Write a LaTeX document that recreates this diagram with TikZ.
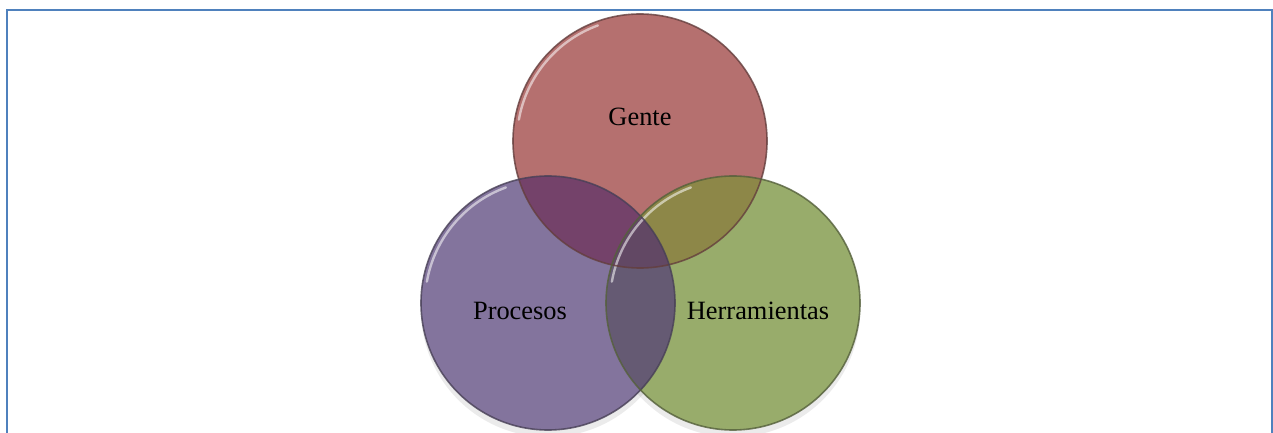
\documentclass[tikz,border=0pt]{standalone}
\usepackage{fontspec}
\setmainfont{Liberation Serif}
\usetikzlibrary{calc}
\definecolor{framec}{RGB}{79,129,189}
\definecolor{genteC}{RGB}{181,112,111}
\definecolor{procC}{RGB}{131,116,157}
\definecolor{herrC}{RGB}{152,172,107}
\definecolor{gpC}{RGB}{116,66,106}
\definecolor{ghC}{RGB}{141,135,72}
\definecolor{phC}{RGB}{101,90,115}
\definecolor{gphC}{RGB}{98,72,100}
\def\rad{127}
\tikzset{
  label text/.style={font=\fontsize{19.8}{24}\selectfont, text=black, inner sep=0pt},
  rim/.style={draw=#1, line width=1.2pt, draw opacity=0.8},
  gloss/.style={draw=white, line width=1.8pt, draw opacity=0.55, line cap=round},
}

\begin{document}
\begin{tikzpicture}[x=0.75pt,y=0.75pt]
			%%%%% START %%%%%
			\useasboundingbox (0, 0) rectangle (1273, 432);
			
			\draw[framec, line width=1.8pt] (7, -2) -- (7, 422) -- (1272, 422) -- (1272, -2);
			
			\coordinate (gente) at (640, 291);
			\coordinate (procesos) at (548, 129);
			\coordinate (herra) at (733, 129);
			
			% shadows
			\fill[black, opacity=0.08] ($(procesos)+(0,-7)$) circle (\rad);
			\fill[black, opacity=0.08] ($(herra)+(0,-7)$) circle (\rad);
			\fill[black, opacity=0.05] ($(gente)+(0,-5)$) circle (\rad);
			
			\fill[genteC] (gente) circle (\rad);
			\fill[procC] (procesos) circle (\rad);
			\fill[herrC] (herra) circle (\rad);
			
			% overlaps
			\begin{scope}
				\clip (gente) circle (\rad);
				\fill[gpC] (procesos) circle (\rad);
				\fill[ghC] (herra) circle (\rad);
			\end{scope}
			\begin{scope}
				\clip (procesos) circle (\rad);
				\fill[phC] (herra) circle (\rad);
				\clip (herra) circle (\rad);
				\fill[gphC] (gente) circle (\rad);
			\end{scope}
			
			% gloss
			\draw[gloss] ($(gente)+(110:\rad-4)$) arc (110:170:\rad-4);
			\draw[gloss] ($(procesos)+(110:\rad-4)$) arc (110:170:\rad-4);
			\draw[gloss] ($(herra)+(110:\rad-4)$) arc (110:170:\rad-4);
			
			\draw[rim=genteC!55!black] (gente) circle (\rad);
			\draw[rim=procC!55!black] (procesos) circle (\rad);
			\draw[rim=herrC!55!black] (herra) circle (\rad);
			
			\node[label text] (tgente) at (640, 315) {Gente};
			\node[label text] (tprocesos) at (520, 121) {Procesos};
			\node[label text] (therra) at (758, 121) {Herramientas};
			
			%%%%% END %%%%%
		\end{tikzpicture}
\end{document}
